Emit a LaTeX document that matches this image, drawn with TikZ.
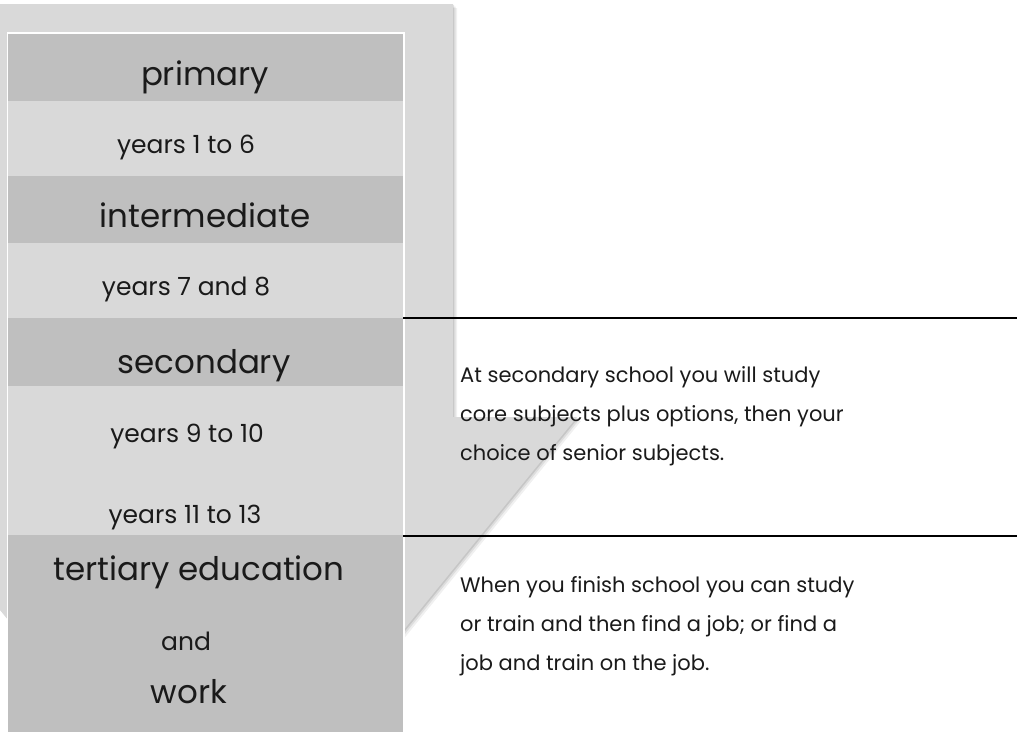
\documentclass[tikz,border=0pt]{standalone}
\usepackage{fontspec}
\setmainfont{Poppins}
\definecolor{lightg}{HTML}{D9D9D9}
\definecolor{darkg}{HTML}{BFBFBF}
\definecolor{txt}{HTML}{1A1A1A}
\begin{document}
\begin{tikzpicture}[x=1pt,y=-1pt,
  band/.style={draw=none,inner sep=0pt,minimum width=395pt,anchor=north west},
  headband/.style={band,fill=darkg},
  yearband/.style={band,fill=lightg},
  headtxt/.style={inner sep=0pt,anchor=base,text=txt,font=\fontsize{32.5}{36}\selectfont},
  yeartxt/.style={inner sep=0pt,anchor=base,text=txt,font=\fontsize{25}{28}\selectfont},
  bodytxt/.style={inner sep=0pt,anchor=base west,align=left,text=txt,font=\fontsize{21}{39}\selectfont},
  rule/.style={line width=2pt,black}]
\useasboundingbox (0,0) rectangle (1017,731);
\begin{scope}
\clip (0,0) rectangle (1017,731);
% shadow of background arrow
\foreach \o/\op in {4/0.06,2.5/0.08,1.2/0.1}{
  \fill[black,opacity=\op] (-33+\o,4+\o) -- (453+\o,4+\o) -- (453+\o,417+\o) -- (577+\o,417+\o) -- (210+\o,868+\o) -- (-157+\o,417+\o) -- cycle;}
% background arrow
\fill[lightg] (-33,4) -- (453,4) -- (453,417) -- (577,417) -- (210,868) -- (-157,417) -- (-33,417) -- cycle;
% column frame
\fill[white] (6.5,32) rectangle (404.5,740);
\node[headband,minimum height=67pt] (b1) at (8,33.5) {};
\node[yearband,minimum height=75pt] (b2) at (8,100.5) {};
\node[headband,minimum height=67pt] (b3) at (8,175.5) {};
\node[yearband,minimum height=75pt] (b4) at (8,242.5) {};
\node[headband,minimum height=68pt] (b5) at (8,317.5) {};
\node[yearband,minimum height=149pt] (b6) at (8,385.5) {};
\node[headband,minimum height=205pt] (b7) at (8,534.5) {};
\end{scope}
% texts in the column
\node[headtxt] (t1) at (205,85) {primary};
\node[yeartxt] (t2) at (186,153) {years 1 to 6};
\node[headtxt] (t3) at (205,227) {intermediate};
\node[yeartxt] (t4) at (186,295) {years 7 and 8};
\node[headtxt] (t5) at (204,373) {secondary};
\node[yeartxt] (t6) at (187,442) {years 9 to 10};
\node[yeartxt] (t7) at (185,523) {years 11 to 13};
\node[headtxt] (t8) at (199,580) {tertiary education};
\node[yeartxt] (t9) at (186,650) {and};
\node[headtxt] (t10) at (189,703) {work};
% rules
\coordinate (r1) at (1017,318);
\coordinate (r2) at (1017,536);
\draw[rule] (b5.north east |- r1) -- (r1);
\draw[rule] (b7.north east |- r2) -- (r2);
% descriptions (anchored at the baseline of their last line)
\node[bodytxt] (d1) at (460,460) {At secondary school you will study\\core subjects plus options, then your\\choice of senior subjects.};
\node[bodytxt] (d2) at (460,670) {When you finish school you can study\\or train and then find a job; or find a\\job and train on the job.};
\end{tikzpicture}
\end{document}
